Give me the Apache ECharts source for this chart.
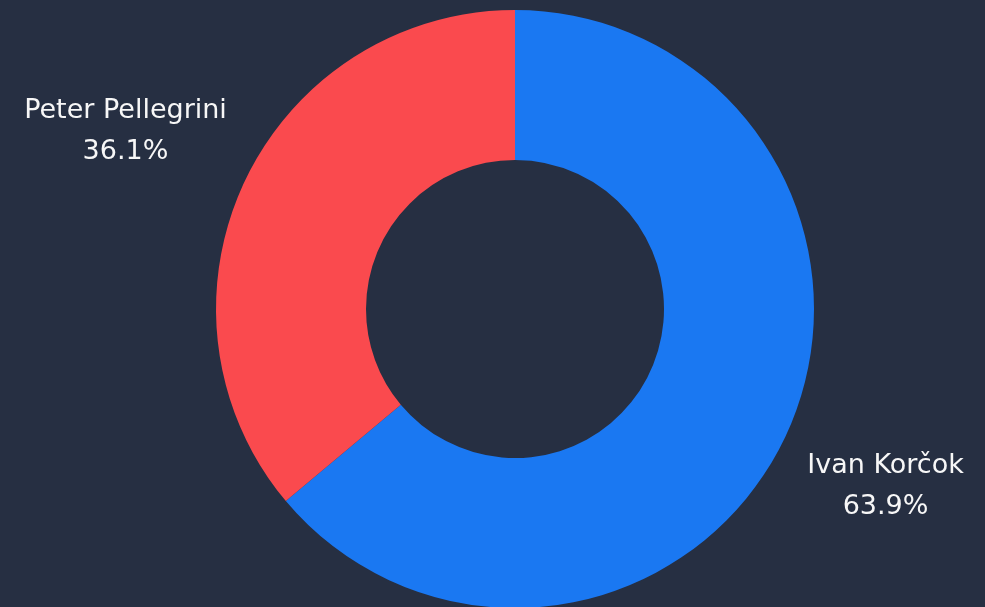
<!DOCTYPE html>
<html>
<head>
<meta charset="utf-8">
<script src="https://cdn.jsdelivr.net/npm/echarts@6/dist/echarts.min.js"></script>
<style>
  html, body { margin: 0; padding: 0; background: #262f42; }
  #chart { width: 985px; height: 607px; }
</style>
</head>
<body>
<div id="chart"></div>
<script>
const candidates = ['Ivan Korčok', 'Peter Pellegrini']
const shares = [63.9, 36.1]
const colors = ['#1a78f2', '#fa4a4e']

const chart = echarts.init(document.getElementById('chart'))

const option = {
  backgroundColor: '#262f42',
  animation: false,
  series: [
    {
      type: 'pie',
      center: [515, 309],
      radius: [149, 299],
      startAngle: 90,
      clockwise: true,
      avoidLabelOverlap: false,
      data: candidates.map((name, i) => ({
        name: name,
        value: shares[i],
        itemStyle: { color: colors[i] }
      })),
      label: {
        show: true,
        position: 'outside',
        formatter: p => p.name + '\n' + p.value.toFixed(1) + '%',
        color: '#f7f7f7',
        fontFamily: 'DejaVu Sans',
        fontSize: 27,
        lineHeight: 41
      },
      // invisible line, only used to find the mid-angle direction
      labelLine: {
        show: true,
        length: 39,
        length2: 0,
        lineStyle: { opacity: 0 }
      },
      labelLayout: params => {
        const pts = params.labelLinePoints
        if (!pts) return {}
        const vx = pts[1][0] - pts[0][0]
        const vy = pts[1][1] - pts[0][1]
        const len = Math.sqrt(vx * vx + vy * vy) || 1
        const dx = vx / len
        const dy = vy / len
        // push the label out so its inner side keeps a gap from the ring
        const push = params.labelRect.width / 2 * Math.abs(dx)
        return {
          x: pts[1][0] + dx * push,
          y: pts[1][1] + dy * push + 4.5,
          align: 'center',
          verticalAlign: 'middle'
        }
      },
      emphasis: { disabled: true }
    }
  ]
}

chart.setOption(option)
</script>
</body>
</html>
